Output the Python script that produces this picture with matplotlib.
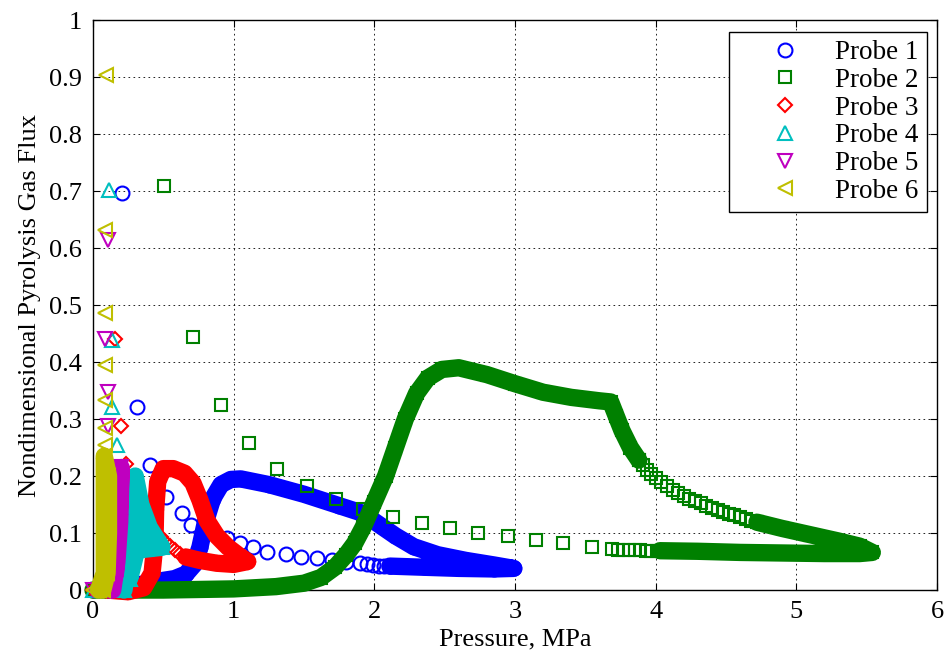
import matplotlib
matplotlib.use('Agg')
import matplotlib.pyplot as plt

plt.rcParams['font.family'] = ['Liberation Serif', 'DejaVu Serif']

# MATLAB style colours for the six probes
colors = [(0, 0, 1), (0, 0.5, 0), (1, 0, 0), (0, 0.75, 0.75), (0.75, 0, 0.75), (0.75, 0.75, 0)]
markers = ['o', 's', 'D', '^', 'v', '<']
msizes = [10, 9, 7.5, 10.5, 10.5, 10.5]
labels = ['Probe 1', 'Probe 2', 'Probe 3', 'Probe 4', 'Probe 5', 'Probe 6']

# probe 1 - separated circles
p1_x = [0.0, 0.204, 0.31, 0.405, 0.52, 0.63, 0.70, 0.82, 0.95, 1.045, 1.14, 1.235, 1.37, 1.48, 1.59, 1.70, 1.80, 1.90, 1.95, 1.99, 2.03, 2.07, 2.11]
p1_y = [0.0, 0.696, 0.322, 0.219, 0.164, 0.135, 0.114, 0.102, 0.092, 0.082, 0.075, 0.067, 0.063, 0.058, 0.056, 0.053, 0.050, 0.047, 0.045, 0.044, 0.043, 0.043, 0.042]
# probe 1 - packed part (markers overlap into a band)
b1_x = [0.10, 0.30, 0.45, 0.58, 0.66, 0.72, 0.76, 0.80, 0.85, 0.91, 0.98, 1.05, 1.25, 1.50, 1.75, 1.90, 1.98, 2.05, 2.15, 2.28, 2.45, 2.65, 2.85, 2.99, 2.85, 2.60, 2.35, 2.11]
b1_y = [0.0, 0.008, 0.015, 0.02, 0.028, 0.045, 0.075, 0.12, 0.16, 0.185, 0.194, 0.195, 0.185, 0.168, 0.148, 0.136, 0.124, 0.112, 0.095, 0.076, 0.062, 0.052, 0.044, 0.038, 0.037, 0.038, 0.040, 0.042]

# probe 2
p2_x = [0.0, 0.505, 0.71, 0.91, 1.11, 1.31, 1.52, 1.73, 1.92, 2.13, 2.34, 2.54, 2.74, 2.95, 3.15, 3.34, 3.55, 3.69, 3.73, 3.77, 3.81, 3.85, 3.89, 3.93, 3.97, 4.01]
p2_y = [0.0, 0.709, 0.444, 0.325, 0.258, 0.213, 0.183, 0.160, 0.142, 0.129, 0.118, 0.108, 0.100, 0.094, 0.088, 0.082, 0.076, 0.072, 0.071, 0.071, 0.070, 0.070, 0.070, 0.069, 0.069, 0.069]
u2_x = [3.88, 3.91, 3.94, 3.97, 4.00, 4.04, 4.08, 4.12, 4.16, 4.20, 4.24, 4.28, 4.32, 4.36, 4.40, 4.44, 4.48, 4.52, 4.56, 4.60, 4.64, 4.68, 4.72]
u2_y = [0.228, 0.219, 0.211, 0.204, 0.197, 0.189, 0.182, 0.176, 0.170, 0.165, 0.160, 0.156, 0.152, 0.148, 0.144, 0.141, 0.137, 0.134, 0.131, 0.128, 0.125, 0.122, 0.119]
b2_x = [0.0, 0.5, 1.0, 1.3, 1.5, 1.62, 1.72, 1.80, 1.86, 1.92, 2.0, 2.08, 2.15, 2.22, 2.30, 2.38, 2.48, 2.60, 2.80, 3.00, 3.20, 3.40, 3.60, 3.68, 3.72, 3.76, 3.82, 3.88]
b2_y = [0.0, 0.0, 0.002, 0.006, 0.012, 0.022, 0.040, 0.062, 0.082, 0.11, 0.155, 0.2, 0.25, 0.3, 0.345, 0.372, 0.387, 0.39, 0.378, 0.362, 0.347, 0.338, 0.332, 0.330, 0.305, 0.28, 0.25, 0.228]
b2b_x = [4.72, 4.9, 5.1, 5.3, 5.45, 5.54, 5.45, 5.2, 4.9, 4.6, 4.3, 4.03]
b2b_y = [0.119, 0.108, 0.097, 0.086, 0.077, 0.066, 0.064, 0.064, 0.065, 0.066, 0.068, 0.069]

# probe 3
p3_x = [0.0, 0.156, 0.20, 0.235, 0.48, 0.515, 0.55, 0.585, 0.62]
p3_y = [0.0, 0.441, 0.287, 0.222, 0.093, 0.085, 0.077, 0.070, 0.064]
b3_x = [0.10, 0.25, 0.36, 0.42, 0.44, 0.445, 0.46, 0.50, 0.57, 0.65, 0.71, 0.76, 0.81, 0.88, 0.96, 1.04, 1.10, 1.00, 0.88, 0.76, 0.66]
b3_y = [0.0, -0.003, 0.004, 0.03, 0.08, 0.14, 0.19, 0.213, 0.213, 0.205, 0.188, 0.158, 0.122, 0.095, 0.075, 0.06, 0.05, 0.045, 0.047, 0.052, 0.058]

# probe 4
p4_x = [0.0, 0.116, 0.133, 0.133, 0.168]
p4_y = [0.0, 0.702, 0.439, 0.322, 0.254]
b4_x = [0.22, 0.27, 0.30, 0.34, 0.40, 0.49, 0.38, 0.31, 0.26, 0.30, 0.36]
b4_y = [0.0, 0.08, 0.20, 0.15, 0.11, 0.075, 0.072, 0.07, 0.02, 0.11, 0.09]

# probe 5
p5_x = [0.0, 0.109, 0.085, 0.109, 0.109]
p5_y = [0.0, 0.614, 0.441, 0.348, 0.287]
b5_x = [0.12, 0.16, 0.17, 0.19, 0.20, 0.19, 0.17, 0.14]
b5_y = [0.0, 0.03, 0.08, 0.15, 0.215, 0.12, 0.05, 0.0]

# probe 6
p6_x = [0.0, 0.092, 0.085, 0.085, 0.085, 0.085, 0.085, 0.085]
p6_y = [0.0, 0.904, 0.632, 0.486, 0.395, 0.333, 0.284, 0.254]
b6_x = [0.04, 0.08, 0.08, 0.08, 0.11, 0.11, 0.10, 0.07]
b6_y = [0.0, 0.03, 0.12, 0.235, 0.2, 0.1, 0.03, 0.0]

xticks = [0, 1, 2, 3, 4, 5, 6]
yticks = [0, 0.1, 0.2, 0.3, 0.4, 0.5, 0.6, 0.7, 0.8, 0.9, 1]
ytick_labels = ['0', '0.1', '0.2', '0.3', '0.4', '0.5', '0.6', '0.7', '0.8', '0.9', '1']

sparse = [(p1_x, p1_y), (p2_x, p2_y), (p3_x, p3_y), (p4_x, p4_y), (p5_x, p5_y), (p6_x, p6_y)]
bands = [[(b1_x, b1_y)], [(b2_x, b2_y), (b2b_x, b2b_y)], [(b3_x, b3_y)], [(b4_x, b4_y)], [(b5_x, b5_y)], [(b6_x, b6_y)]]

fig = plt.figure(figsize=(9.51, 6.6), dpi=100)
ax = fig.add_axes([0.0978, 0.106, 0.8875, 0.8636])

for i in range(6):
    c = colors[i]
    for bx, by in bands[i]:
        ax.plot(bx, by, '-', color=c, lw=12.5, solid_joinstyle='round', solid_capstyle='round', clip_on=False, zorder=2 + i)
        ax.plot(bx, by, markers[i], color=c, ms=msizes[i], mfc='none', mew=1.5, clip_on=False, zorder=2 + i)
    ax.plot(sparse[i][0], sparse[i][1], markers[i], color=c, ms=msizes[i], mfc='none', mew=1.5,
            clip_on=False, zorder=2 + i, label=labels[i])
    if i == 1:
        ax.plot(u2_x, u2_y, markers[i], color=c, ms=msizes[i], mfc='none', mew=1.5, clip_on=False, zorder=2 + i)

ax.set_xlim(0, 6)
ax.set_ylim(0, 1)
ax.set_xticks(xticks)
ax.set_yticks(yticks)
ax.set_yticklabels(ytick_labels)
ax.tick_params(direction='in', length=5, width=0.8, top=True, right=True, labelsize=19, pad=8)
ax.grid(True, color='k', linestyle=(0, (2, 4)), linewidth=0.6)
ax.set_axisbelow(True)
for s in ax.spines.values():
    s.set_linewidth(1.0)

ax.set_xlabel('Pressure, MPa', fontsize=19, labelpad=4)
ax.set_ylabel('Nondimensional Pyrolysis Gas Flux', fontsize=19, labelpad=6)

leg = ax.legend(loc='upper right', bbox_to_anchor=(0.988, 0.979), borderaxespad=0, fontsize=19.5,
                numpoints=1, fancybox=False, framealpha=1, edgecolor='k', handlelength=3.58,
                handletextpad=0.05, labelspacing=0.1, borderpad=0.3)
leg.get_frame().set_linewidth(1.0)

fig.savefig('out.png', dpi=100)
